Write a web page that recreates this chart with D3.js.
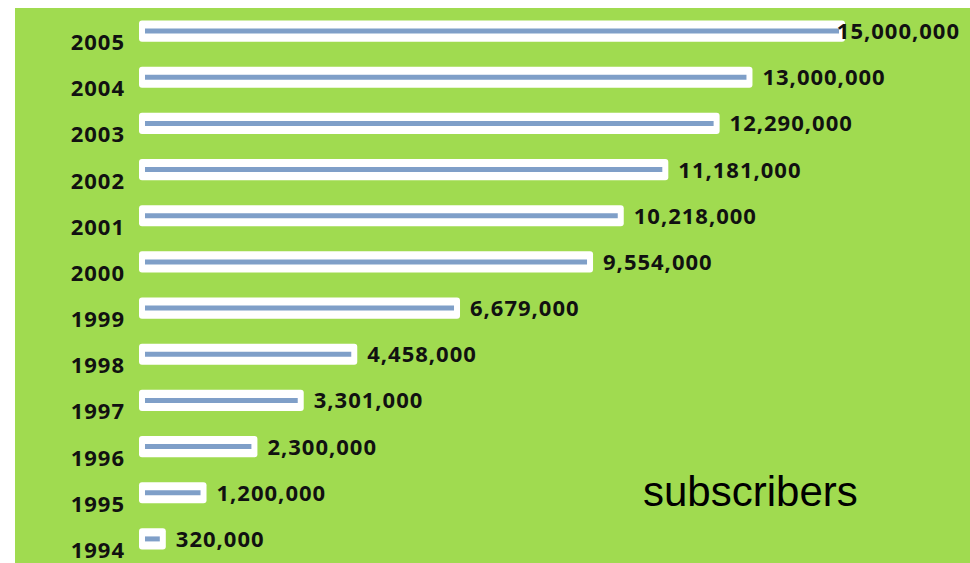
<!DOCTYPE html>
<html>
<head>
<meta charset="utf-8">
<script src="https://cdn.jsdelivr.net/npm/d3@7"></script>
<style>
  body { margin: 0; background: #fff; }
  svg { display: block; }
</style>
</head>
<body>
<svg width="970" height="563"></svg>
<script>
// data
var years = ["2005", "2004", "2003", "2002", "2001", "2000", "1999", "1998", "1997", "1996", "1995", "1994"];
var subscribers = [15000000, 13000000, 12290000, 11181000, 10218000, 9554000, 6679000, 4458000, 3301000, 2300000, 1200000, 320000];
var seriesLabel = "subscribers";

var svg = d3.select("svg"),
    width = +svg.attr("width"),
    height = +svg.attr("height");

var x0 = 145, pad = 6;

// green background panel
svg.append("rect")
    .attr("x", 15)
    .attr("y", 8)
    .attr("width", width - 15)
    .attr("height", height - 8)
    .attr("fill", "#a0db50");

var x = d3.scaleLinear().domain([0, 15000000]).range([x0, x0 + 694]);
var y = d3.scaleBand().domain(years).range([8, 562]).paddingInner(0.54).paddingOuter(0.27);

var data = years.map(function(d, i) { return {year: d, value: subscribers[i]}; });

// year axis (labels sit a little below each bar)
var yAxis = d3.axisLeft(y).tickSize(0).tickPadding(0);
var ax = svg.append("g")
    .attr("transform", "translate(125,12)")
    .call(yAxis);
ax.select(".domain").remove();
ax.selectAll("text")
    .attr("fill", "#111")
    .style("font-family", "'Open Sans', sans-serif")
    .style("font-weight", "bold")
    .style("font-size", "22px")
    .style("letter-spacing", "1px");

var bars = svg.append("g").selectAll("g")
    .data(data).enter()
    .append("g");

bars.append("rect")
    .attr("x", x0 - pad)
    .attr("y", function(d) { return y(d.year); })
    .attr("width", function(d) { return x(d.value) - x0 + pad * 2; })
    .attr("height", y.bandwidth())
    .attr("rx", 3)
    .attr("fill", "#fff");

bars.append("line")
    .attr("x1", x0)
    .attr("x2", function(d) { return x(d.value); })
    .attr("y1", function(d) { return y(d.year) + y.bandwidth() / 2; })
    .attr("y2", function(d) { return y(d.year) + y.bandwidth() / 2; })
    .attr("stroke", "#7f9fc8")
    .attr("stroke-width", 5);

var fmt = d3.format(",");
bars.append("text")
    .attr("x", function(d) { return x(d.value) + pad + 10; })
    .attr("y", function(d) { return y(d.year) + y.bandwidth() / 2; })
    .attr("dy", "0.36em")
    .attr("fill", "#111")
    .style("font-family", "'Open Sans', sans-serif")
    .style("font-weight", "bold")
    .style("font-size", "22px")
    .style("letter-spacing", "1px")
    .text(function(d) { return fmt(d.value); })
    .each(function() {
        // keep labels inside the panel
        var t = d3.select(this), w = this.getComputedTextLength();
        if (+t.attr("x") + w > width - 10) t.attr("x", width - 10 - w);
    });

svg.append("text")
    .attr("x", 643)
    .attr("y", 506)
    .attr("fill", "#000")
    .style("font-family", "'Liberation Sans', Arial, sans-serif")
    .style("font-size", "42px")
    .text(seriesLabel);
</script>
</body>
</html>
